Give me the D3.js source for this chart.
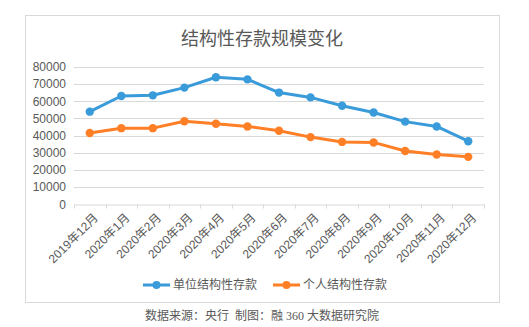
<!DOCTYPE html>
<html><head><meta charset="utf-8">
<script src="https://cdn.jsdelivr.net/npm/d3@7"></script>
<style>body{margin:0;background:#fff}svg{display:block}</style>
</head><body><svg id="c" width="529" height="327"></svg>
<script>
const categories = ["2019年12月","2020年1月","2020年2月","2020年3月","2020年4月","2020年5月","2020年6月","2020年7月","2020年8月","2020年9月","2020年10月","2020年11月","2020年12月"];
const unitDeposits = [53900,63000,63400,67900,73900,72700,65000,62200,57300,53400,48100,45300,36700];
const personalDeposits = [41500,44300,44300,48300,46900,45300,42800,39100,36300,36000,31000,29000,27600];
const yTicks = [0,10000,20000,30000,40000,50000,60000,70000,80000];
const seriesNames = ["单位结构性存款","个人结构性存款"];
const colors = ["#3A9BDA","#FF7F27"];

const svg = d3.select("#c");
const font = "Arial, 'Liberation Sans', 'Noto Sans CJK SC', sans-serif";
svg.append("rect").attr("x",25.5).attr("y",15.5).attr("width",474).attr("height",287)
  .attr("fill","#fff").attr("stroke","#d9d9d9");

svg.append("text").attr("x",262).attr("y",45).attr("text-anchor","middle")
  .attr("font-family","'Noto Sans CJK SC', sans-serif").attr("font-size",18).attr("fill","#595959")
  .text("结构性存款规模变化");

const x = d3.scaleBand().domain(categories).range([74,484]);
const y = d3.scaleLinear().domain([0,80000]).range([204.3,66.8]);

const grid = svg.append("g");
yTicks.forEach(t=>{
  if(t===0) return;
  grid.append("line").attr("x1",74).attr("x2",484).attr("y1",Math.round(y(t))+0.5).attr("y2",Math.round(y(t))+0.5)
    .attr("stroke","#d9d9d9").attr("stroke-width",1);
});

const yAxis = svg.append("g").attr("transform","translate(74,0)")
  .call(d3.axisLeft(y).tickValues(yTicks).tickSize(0).tickPadding(8).tickFormat(d3.format("d")));
yAxis.select(".domain").remove();
yAxis.selectAll("text").attr("font-family",font).attr("font-size",12).attr("fill","#595959");

const xAxis = svg.append("g").attr("transform","translate(0,"+(Math.round(y(0))+0.5)+")")
  .call(d3.axisBottom(x).tickSizeOuter(0).tickSize(0));
xAxis.select(".domain").attr("stroke","#d9d9d9");
const bounds = categories.map(c=>x(c)).concat([x.range()[1]]);
bounds.forEach(b=>{
  xAxis.append("line").attr("x1",Math.round(b)+0.5).attr("x2",Math.round(b)+0.5).attr("y1",0).attr("y2",4).attr("stroke","#d9d9d9");
});
xAxis.selectAll(".tick text").attr("font-family",font).attr("font-size",12).attr("fill","#595959")
  .attr("text-anchor","end").attr("dy","0.35em")
  .attr("transform","translate(4,9) rotate(-45)");

const cx = d => x(d) + x.bandwidth()/2;
[unitDeposits, personalDeposits].forEach((vals,i)=>{
  const data = categories.map((c,j)=>({c,v:vals[j]}));
  svg.append("path").datum(data).attr("fill","none").attr("stroke",colors[i]).attr("stroke-width",3)
    .attr("stroke-linejoin","round")
    .attr("d", d3.line().x(d=>cx(d.c)).y(d=>y(d.v)));
  svg.append("g").selectAll("circle").data(data).join("circle")
    .attr("cx",d=>cx(d.c)).attr("cy",d=>y(d.v)).attr("r",4.2).attr("fill",colors[i]);
});

const legX = [143,273];
seriesNames.forEach((n,i)=>{
  const g = svg.append("g").attr("transform","translate("+legX[i]+",285)");
  g.append("line").attr("x1",0).attr("x2",27).attr("y1",0).attr("y2",0).attr("stroke",colors[i]).attr("stroke-width",3);
  g.append("circle").attr("cx",13.5).attr("cy",0).attr("r",4).attr("fill",colors[i]);
  g.append("text").attr("x",30).attr("y",0).attr("dy","0.36em").attr("font-family","'Noto Sans CJK SC', sans-serif")
    .attr("font-size",12).attr("fill","#595959").text(n);
});

svg.append("text").attr("x",262).attr("y",320).attr("text-anchor","middle").style("white-space","pre")
  .attr("font-family","'Liberation Serif','Noto Sans CJK SC', serif").attr("font-size",12).attr("fill","#595959")
  .text("数据来源：央行  制图：融 360 大数据研究院");
</script></body></html>
